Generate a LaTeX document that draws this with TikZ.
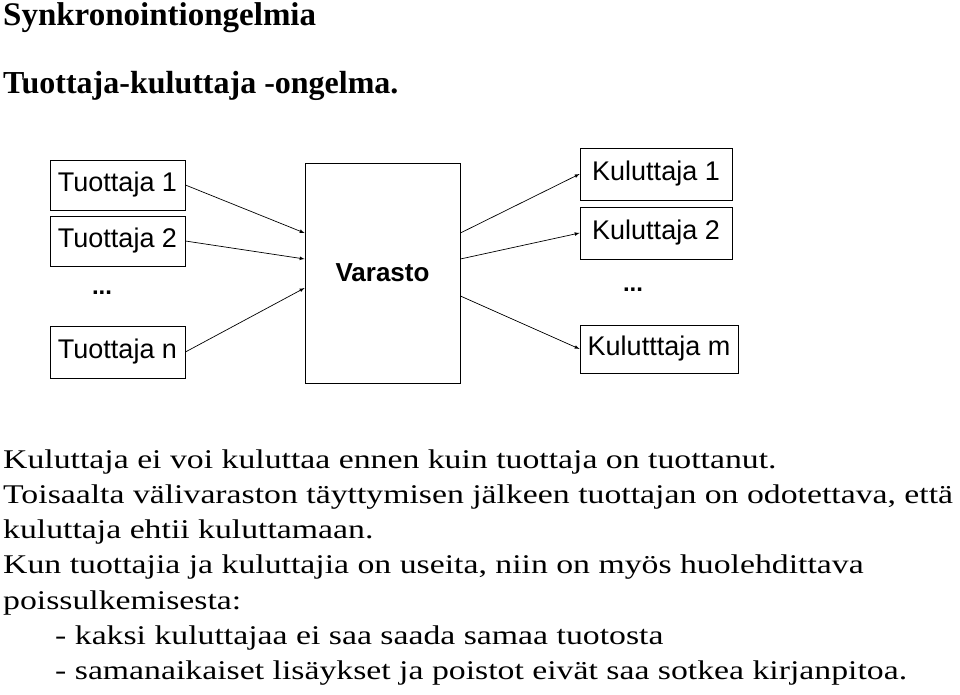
\documentclass[tikz,border=0pt]{standalone}
\usepackage{fontspec}
\setmainfont{Liberation Serif}
\newfontfamily\arial{Liberation Sans}
\newfontfamily\bodyf[FakeStretch=1.25]{Liberation Serif}
\begin{document}
\begin{tikzpicture}[x=1pt,y=-1pt,
  bx/.style={draw,line width=0.8pt,inner sep=0pt,font=\arial\fontsize{27}{30}\selectfont},
  ar/.style={-latex,line width=0.7pt},
  tl/.style={anchor=west,inner sep=0pt,font=\bodyf\fontsize{27}{30}\selectfont}]
\useasboundingbox (0,0) rectangle (960,695);
\node[anchor=west,inner sep=0pt,font=\bfseries\fontsize{33}{36}\selectfont] (h1) at (3,18) {Synkronointiongelmia};
\node[anchor=west,inner sep=0pt,font=\bfseries\fontsize{32}{36}\selectfont] (h2) at (3,86) {Tuottaja-kuluttaja -ongelma.};
\node[bx,minimum width=135,minimum height=50] (t1) at (117.5,185) {Tuottaja 1};
\node[bx,minimum width=135,minimum height=50] (t2) at (117.5,241) {Tuottaja 2};
\node[font=\arial\bfseries\fontsize{24}{24}\selectfont] (d1) at (102,293) {...};
\node[bx,minimum width=135,minimum height=52] (tn) at (117.5,352) {Tuottaja n};
\node[bx,minimum width=155,minimum height=220,font=\arial\bfseries\fontsize{26}{30}\selectfont] (v) at (382.5,273) {Varasto};
\node[bx,minimum width=152,minimum height=52] (k1) at (656,174) {Kuluttaja 1};
\node[bx,minimum width=152,minimum height=52] (k2) at (656,233) {Kuluttaja 2};
\node[font=\arial\bfseries\fontsize{24}{24}\selectfont] (d2) at (633,290) {...};
\node[bx,minimum width=158,minimum height=48] (km) at (659,349) {Kulutttaja m};
\draw[ar] (t1.east) -- ([yshift=40]v.west);
\draw[ar] (t2.east) -- ([yshift=14]v.west);
\draw[ar] (tn.east) -- ([yshift=-15]v.west);
\draw[ar] ([yshift=40]v.east) -- (k1.west);
\draw[ar] ([yshift=14]v.east) -- (k2.west);
\draw[ar] ([yshift=-23]v.east) -- (km.west);
\node[tl] (l1) at (3,462) {Kuluttaja ei voi kuluttaa ennen kuin tuottaja on tuottanut.};
\node[tl] (l2) at (3,497) {Toisaalta välivaraston täyttymisen jälkeen tuottajan on odotettava, että};
\node[tl] (l3) at (3,532) {kuluttaja ehtii kuluttamaan.};
\node[tl] (l4) at (3,567) {Kun tuottajia ja kuluttajia on useita, niin on myös huolehdittava};
\node[tl] (l5) at (3,603) {poissulkemisesta:};
\node[tl] (l6) at (55,638) {- kaksi kuluttajaa ei saa saada samaa tuotosta};
\node[tl] (l7) at (55,673) {- samanaikaiset lisäykset ja poistot eivät saa sotkea kirjanpitoa.};
\end{tikzpicture}
\end{document}
